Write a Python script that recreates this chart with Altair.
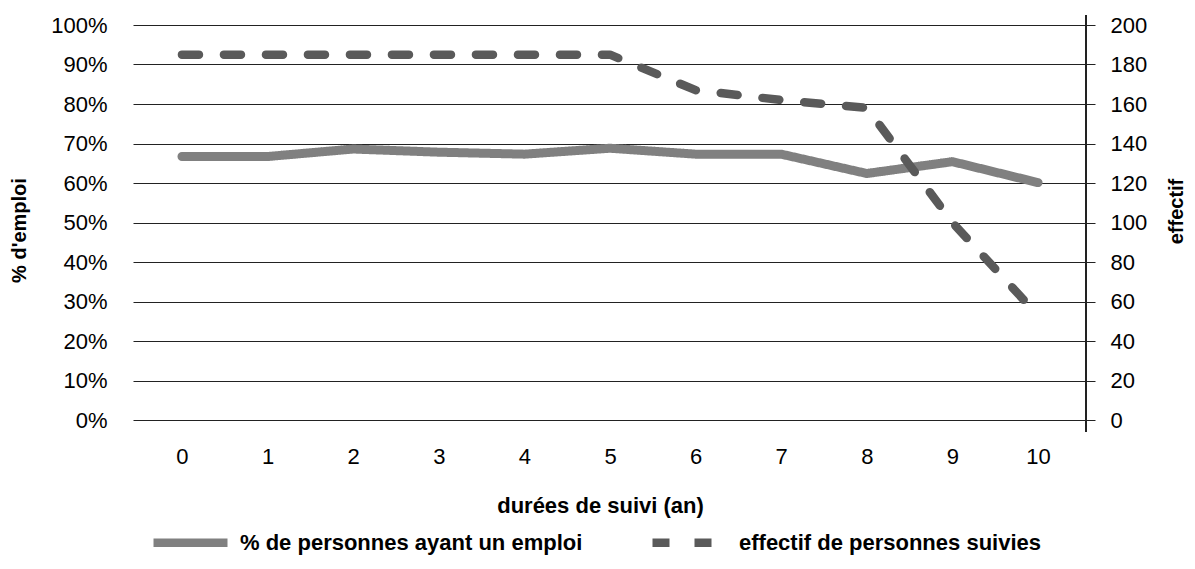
import altair as alt
import pandas as pd

# ---- data ----
annees = list(range(11))
pct_emploi = [0.667, 0.667, 0.686, 0.678, 0.673, 0.688, 0.673, 0.673, 0.624, 0.654, 0.601]
effectif = [185, 185, 185, 185, 185, 185, 167, 162, 158, 100, 53]
serie_pct = "% de personnes ayant  un emploi"
serie_eff = "effectif de personnes suivies"
ticks_pct = [i / 10 for i in range(11)]
ticks_eff = list(range(0, 201, 20))

FONT = "Liberation Sans"

df_pct = pd.DataFrame({"x": annees, "v": pct_emploi, "serie": serie_pct})
df_eff = pd.DataFrame({"x": annees, "v": effectif, "serie": serie_eff})

W, H = 953, 395
GRID = "#222222"

xenc = alt.X(
    "x:Q",
    scale=alt.Scale(domain=[-0.572, 10.56], nice=False, zero=False),
    axis=alt.Axis(
        values=annees, format="d", grid=False, ticks=False, domain=False,
        labelFontSize=22, labelFont=FONT, labelColor="black", labelPadding=26,
        title="durées de suivi (an)", titleFont=FONT, titleFontSize=22,
        titleFontWeight="bold", titleColor="black",
        titleX=467, titleY=85, titleBaseline="middle", titleAnchor="start", titleAlign="center",
    ),
)

legend = alt.Legend(
    title=None, orient="none", legendX=16, legendY=476, direction="horizontal",
    symbolType="stroke", symbolSize=5476, symbolStrokeWidth=8.5,
    labelFontSize=22, labelFontWeight="bold", labelFont=FONT, labelColor="black",
    columnPadding=46, labelLimit=600, labelOffset=8, symbolOpacity=1,
)

color = alt.Color(
    "serie:N",
    scale=alt.Scale(domain=[serie_pct, serie_eff], range=["#808080", "#5a5a5a"]),
    legend=legend,
)
dash = alt.StrokeDash(
    "serie:N",
    scale=alt.Scale(domain=[serie_pct, serie_eff], range=[[1, 0], [17, 25]]),
    legend=legend,
)

line_pct = alt.Chart(df_pct).mark_line(strokeWidth=9, strokeCap="round", strokeJoin="round").encode(
    x=xenc,
    y=alt.Y(
        "v:Q",
        scale=alt.Scale(domain=[0, 1], nice=False),
        axis=alt.Axis(
            values=ticks_pct, format=".0%", grid=True, gridColor=GRID, gridWidth=1,
            ticks=False, domain=False, labelFontSize=22, labelFont=FONT, labelColor="black",
            labelPadding=26, title="% d'emploi", titleFont=FONT, titleFontSize=20,
            titleFontWeight="bold", titleColor="black", titleAngle=270,
            titleX=-114, titleY=205, titleAlign="center", titleBaseline="middle",
        ),
    ),
    color=color,
    strokeDash=dash,
)

line_eff = alt.Chart(df_eff).mark_line(strokeWidth=8.5, strokeCap="round", strokeJoin="round").encode(
    x=xenc,
    y=alt.Y(
        "v:Q",
        scale=alt.Scale(domain=[0, 200], nice=False),
        axis=alt.Axis(
            orient="right", values=ticks_eff, grid=False, ticks=True, tickSize=9,
            tickColor=GRID, domain=False, labelFontSize=22, labelFont=FONT,
            labelColor="black", labelPadding=15, title="effectif", titleFont=FONT,
            titleFontSize=20, titleFontWeight="bold", titleColor="black", titleAngle=270,
            titleX=90, titleY=186, titleAlign="center", titleBaseline="middle",
        ),
    ),
    color=color,
    strokeDash=dash,
)

axis_line = alt.Chart(df_eff).mark_rule(color=GRID, strokeWidth=1).encode(
    x=alt.value(W), y=alt.value(-10), y2=alt.value(H + 12)
)

chart = (
    alt.layer(line_pct, line_eff, axis_line)
    .resolve_scale(y="independent")
    .properties(
        width=W, height=H, autosize="none",
        padding={"left": 125, "top": 17, "right": 101, "bottom": 141},
    )
    .configure_view(stroke=None)
)

chart.save("out.html", embed_options={"renderer": "svg", "actions": False})
